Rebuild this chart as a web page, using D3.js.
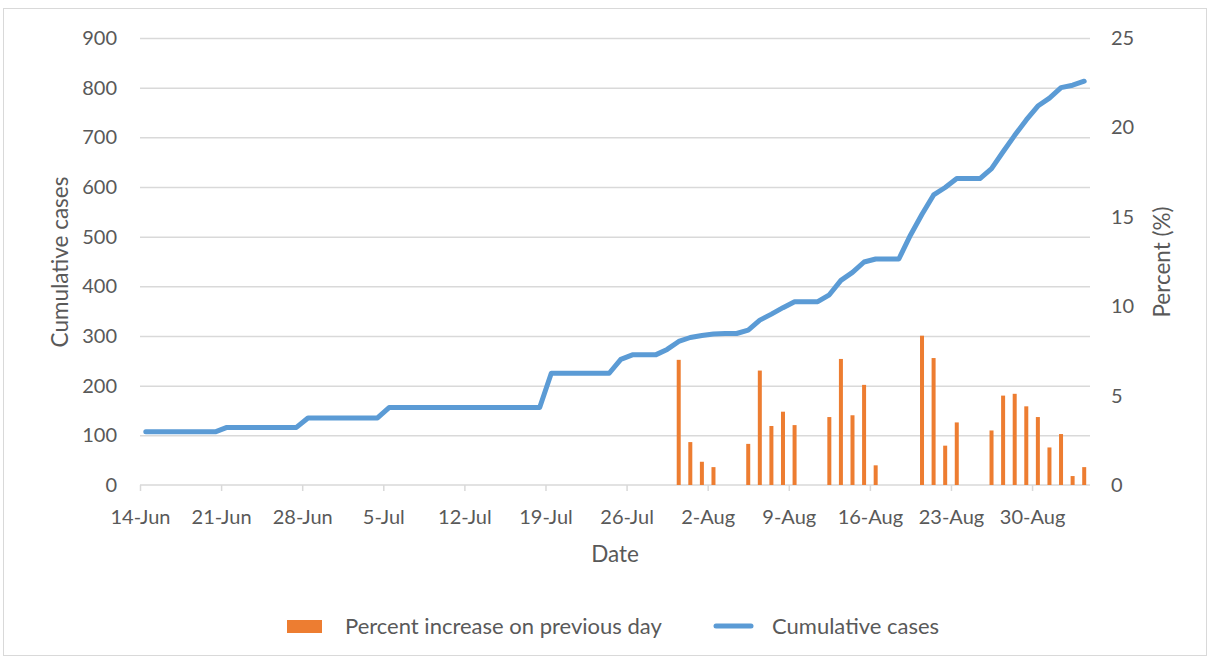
<!DOCTYPE html>
<html>
<head>
<meta charset="utf-8">
<script src="https://cdn.jsdelivr.net/npm/d3@7"></script>
<style>
  body { margin: 0; background: #fff; }
  text { font-family: Lato, "Noto Sans", sans-serif; fill: #595959; }
</style>
</head>
<body>
<script>
var width = 1209, height = 659;

// cumulative cases, one value per day from 14-Jun
var startDate = new Date(2020, 5, 14);
var cumulative = [
  107, 107, 107, 107, 107, 107, 107, 116, 116, 116,
  116, 116, 116, 116, 135, 135, 135, 135, 135, 135,
  135, 156, 156, 156, 156, 156, 156, 156, 156, 156,
  156, 156, 156, 156, 156, 225, 225, 225, 225, 225,
  225, 253, 262, 262, 262, 273, 289, 297, 301, 304,
  305, 305, 312, 332, 344, 357, 369, 369, 369, 383,
  412, 428, 449, 455, 455, 455, 503, 545, 584, 599,
  617, 617, 617, 637, 671, 704, 735, 763, 779, 800,
  805, 813
];

// percent increase bars: day index from 14-Jun and value
var pctDays = [46, 47, 48, 49, 52, 53, 54, 55, 56, 59, 60, 61, 62, 63,
               67, 68, 69, 70, 73, 74, 75, 76, 77, 78, 79, 80, 81];
var pctValues = [7.0, 2.4, 1.3, 1.0, 2.3, 6.4, 3.3, 4.1, 3.35, 3.8, 7.05, 3.9, 5.6, 1.1,
                 8.35, 7.1, 2.2, 3.5, 3.05, 5.0, 5.1, 4.4, 3.8, 2.1, 2.85, 0.5, 1.0];

var leftTicks = [0, 100, 200, 300, 400, 500, 600, 700, 800, 900];
var rightTicks = [0, 5, 10, 15, 20, 25];

var fmt = d3.timeFormat("%-d-%b");

var svg = d3.select("body").append("svg")
    .attr("width", width)
    .attr("height", height);

// cadre du graphique
svg.append("rect")
    .attr("x", 3.5).attr("y", 8.5)
    .attr("width", 1203).attr("height", 647)
    .attr("fill", "none")
    .attr("stroke", "#d9d9d9");

var plotLeft = 140, plotRight = 1090, plotTop = 38, plotBottom = 485;

var endDate = d3.timeDay.offset(startDate, cumulative.length);
var x = d3.scaleTime().domain([startDate, endDate]).range([plotLeft, plotRight]);
var y = d3.scaleLinear().domain([0, 900]).range([plotBottom, plotTop]);
var y2 = d3.scaleLinear().domain([0, 25]).range([plotBottom, plotTop]);

function dayX(i) {
  // le point est au milieu de la journee
  return x(d3.timeHour.offset(d3.timeDay.offset(startDate, i), 12));
}

// grille horizontale
var grid = svg.append("g")
    .attr("transform", "translate(" + plotLeft + ",0)")
    .call(d3.axisLeft(y).tickValues(leftTicks.slice(1)).tickSize(-(plotRight - plotLeft)).tickFormat(""));
grid.select(".domain").remove();
grid.selectAll("line").attr("stroke", "#d9d9d9").attr("stroke-width", 1.5);

// labels gauche
svg.append("g").selectAll("text")
    .data(leftTicks).enter().append("text")
    .attr("x", 117).attr("y", d => y(d) + 7)
    .attr("text-anchor", "end")
    .style("font-size", "20px")
    .text(d => d);

// labels droite
svg.append("g").selectAll("text")
    .data(rightTicks).enter().append("text")
    .attr("x", 1111).attr("y", d => y2(d) + 7)
    .attr("text-anchor", "start")
    .style("font-size", "20px")
    .text(d => d);

// axe x
var xTicks = d3.range(0, 12).map(k => d3.timeDay.offset(startDate, k * 7));
var xAxis = svg.append("g")
    .attr("transform", "translate(0," + plotBottom + ")")
    .call(d3.axisBottom(x).tickValues(xTicks).tickSize(6).tickSizeOuter(0).tickFormat(fmt));
xAxis.select(".domain").attr("stroke", "#d9d9d9").attr("stroke-width", 1.5)
    .attr("d", "M" + plotLeft + ",0H" + plotRight);
xAxis.selectAll("line").attr("stroke", "#d9d9d9").attr("stroke-width", 1.5);
xAxis.selectAll("text")
    .attr("y", 33)
    .attr("dy", "0.32em")
    .style("font-size", "20px")
    .style("fill", "#595959")
    .style("font-family", "Lato, 'Noto Sans', sans-serif");

// barres
svg.append("g").selectAll("rect")
    .data(pctDays).enter().append("rect")
    .attr("x", (d, i) => dayX(d) - 2)
    .attr("width", 4)
    .attr("y", (d, i) => y2(pctValues[i]))
    .attr("height", (d, i) => plotBottom - y2(pctValues[i]))
    .attr("fill", "#ed7d31");

// ligne cumulative
var line = d3.line()
    .x((d, i) => dayX(i))
    .y(d => y(d));
svg.append("path")
    .datum(cumulative)
    .attr("d", line)
    .attr("fill", "none")
    .attr("stroke", "#5b9bd5")
    .attr("stroke-width", 5)
    .attr("stroke-linejoin", "round")
    .attr("stroke-linecap", "round");

// titres des axes
svg.append("text")
    .attr("transform", "translate(68,262) rotate(-90)")
    .attr("text-anchor", "middle")
    .style("font-size", "22.5px")
    .text("Cumulative cases");
svg.append("text")
    .attr("transform", "translate(1170,262) rotate(-90)")
    .attr("text-anchor", "middle")
    .style("font-size", "22.5px")
    .text("Percent (%)");
svg.append("text")
    .attr("x", 615).attr("y", 562)
    .attr("text-anchor", "middle")
    .style("font-size", "22.5px")
    .text("Date");

// legende
svg.append("rect")
    .attr("x", 287).attr("y", 620).attr("width", 35).attr("height", 13)
    .attr("fill", "#ed7d31");
svg.append("text")
    .attr("x", 345).attr("y", 634)
    .style("font-size", "22px")
    .text("Percent increase on previous day");
svg.append("line")
    .attr("x1", 716).attr("x2", 751).attr("y1", 626).attr("y2", 626)
    .attr("stroke", "#5b9bd5").attr("stroke-width", 5)
    .attr("stroke-linecap", "round");
svg.append("text")
    .attr("x", 772).attr("y", 634)
    .style("font-size", "22px")
    .text("Cumulative cases");
</script>
</body>
</html>
